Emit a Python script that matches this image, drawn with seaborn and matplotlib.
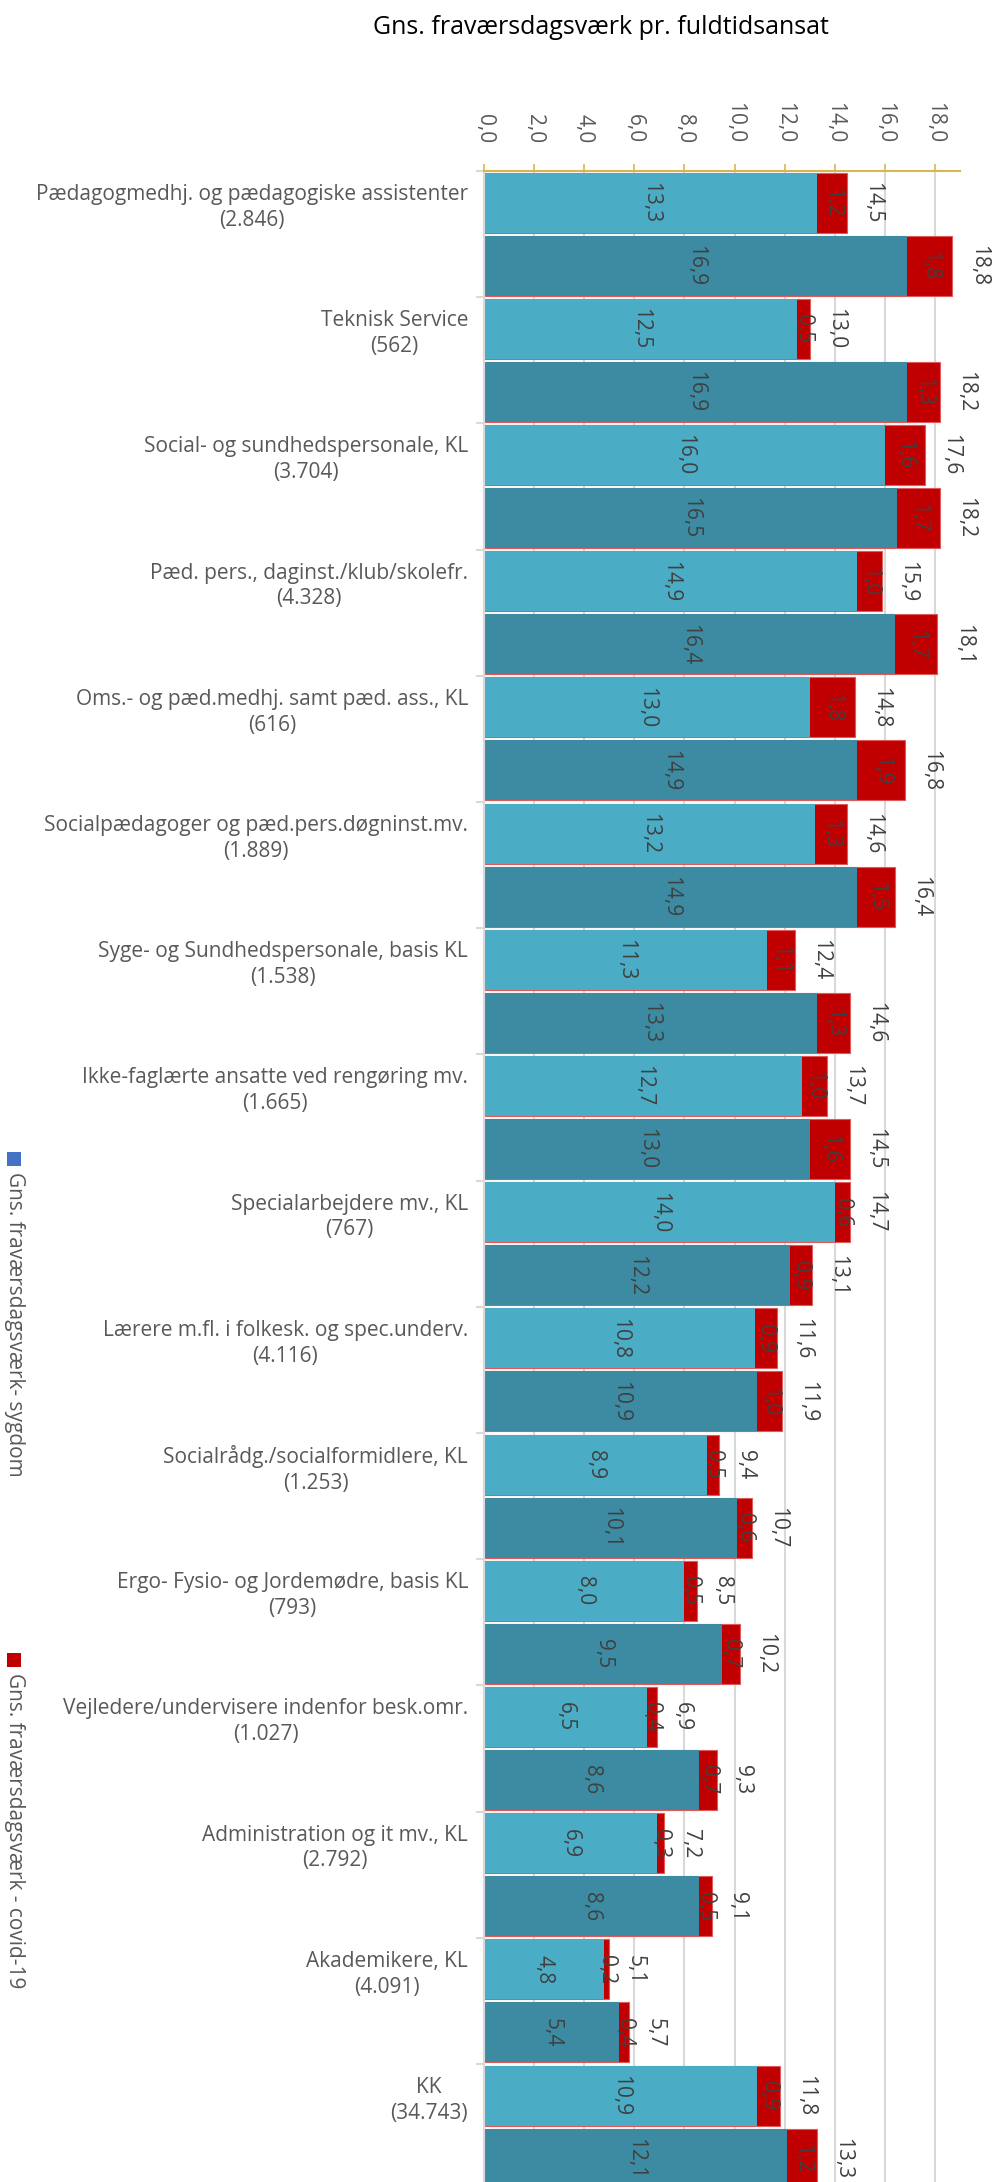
import matplotlib
matplotlib.use("Agg")
import matplotlib.pyplot as plt
import seaborn as sns
import pandas as pd
import numpy as np
from matplotlib.patches import Rectangle

# ---------------- data ----------------
categories = [
    "Pædagogmedhj. og pædagogiske assistenter",
    "Teknisk Service",
    "Social- og sundhedspersonale, KL",
    "Pæd. pers., daginst./klub/skolefr.",
    "Oms.- og pæd.medhj. samt pæd. ass., KL",
    "Socialpædagoger og pæd.pers.døgninst.mv.",
    "Syge- og Sundhedspersonale, basis KL",
    "Ikke-faglærte ansatte ved rengøring mv.",
    "Specialarbejdere mv., KL",
    "Lærere m.fl. i folkesk. og spec.underv.",
    "Socialrådg./socialformidlere, KL",
    "Ergo- Fysio- og Jordemødre, basis KL",
    "Vejledere/undervisere indenfor besk.omr.",
    "Administration og it mv., KL",
    "Akademikere, KL",
    "KK",
]
counts = ["2.846", "562", "3.704", "4.328", "616", "1.889", "1.538", "1.665",
          "767", "4.116", "1.253", "793", "1.027", "2.792", "4.091", "34.743"]

# first bar (light) per category
sick_a = [13.3, 12.5, 16.0, 14.9, 13.0, 13.2, 11.3, 12.7, 14.0, 10.8, 8.9, 8.0, 6.5, 6.9, 4.8, 10.9]
covid_a = [1.2, 0.5, 1.6, 1.0, 1.8, 1.3, 1.1, 1.0, 0.6, 0.9, 0.5, 0.5, 0.4, 0.3, 0.2, 0.9]
total_a = [14.5, 13.0, 17.6, 15.9, 14.8, 14.6, 12.4, 13.7, 14.7, 11.6, 9.4, 8.5, 6.9, 7.2, 5.1, 11.8]

# second bar (dark) per category
sick_b = [16.9, 16.9, 16.5, 16.4, 14.9, 14.9, 13.3, 13.0, 12.2, 10.9, 10.1, 9.5, 8.6, 8.6, 5.4, 12.1]
covid_b = [1.8, 1.3, 1.7, 1.7, 1.9, 1.5, 1.3, 1.6, 0.9, 1.0, 0.6, 0.7, 0.7, 0.5, 0.4, 1.2]
total_b = [18.8, 18.2, 18.2, 18.1, 16.8, 16.4, 14.6, 14.5, 13.1, 11.9, 10.7, 10.2, 9.3, 9.1, 5.7, 13.3]

series = ["A", "B"]
x_ticks = [0, 2, 4, 6, 8, 10, 12, 14, 16, 18]

title = "Gns. fraværsdagsværk pr. fuldtidsansat"
legend_labels = ["Gns. fraværsdagsværk- sygdom", "Gns. fraværsdagsværk - covid-19"]

# ---------------- styling ----------------
LIGHT = "#4BACC6"
DARK = "#3D8BA3"
RED = "#C00000"
LEG_BLUE = "#4472C4"
GRID = "#D9D9D9"
GOLD = "#D8B650"
TXT = "#595959"
VAL = "#404040"


def fmt(v):
    return f"{v:.1f}".replace(".", ",")


rows = []
for i, c in enumerate(categories):
    rows.append(dict(cat=c, series="A", sick=sick_a[i], covid=covid_a[i]))
    rows.append(dict(cat=c, series="B", sick=sick_b[i], covid=covid_b[i]))
df = pd.DataFrame(rows)
df["end"] = df["sick"] + df["covid"]

sns.set_theme(style="white")
plt.rcParams["font.family"] = ["Open Sans", "DejaVu Sans"]

W, H = 997, 2182
fig = plt.figure(figsize=(W / 100, H / 100), dpi=100)
n = len(categories)
ax_left, ax_right, ax_top = 484, 960, 171
ax_bot = ax_top + n * 126.2
ax = fig.add_axes([ax_left / W, 1 - ax_bot / H, (ax_right - ax_left) / W, (ax_bot - ax_top) / H])

# red (covid) full-length bars underneath
sns.barplot(data=df, y="cat", x="end", hue="series", hue_order=series, order=categories,
            palette=[RED, RED], saturation=1, orient="h", width=1.0, gap=0.05,
            legend=False, errorbar=None, ax=ax, edgecolor="#E05A5A", linewidth=0.8)
# sickness bars on top
sns.barplot(data=df, y="cat", x="sick", hue="series", hue_order=series, order=categories,
            palette=[LIGHT, DARK], saturation=1, orient="h", width=1.0, gap=0.05,
            legend=False, errorbar=None, ax=ax, linewidth=0)

red_cont = ax.containers[0:2]
sick_cont = ax.containers[2:4]
sick_vals = [sick_a, sick_b]
covid_vals = [covid_a, covid_b]
total_vals = [total_a, total_b]

FS = 15
for k in range(2):
    ax.bar_label(sick_cont[k], labels=[fmt(v) for v in sick_vals[k]], label_type="center",
                 rotation=-90, color=VAL, fontsize=FS)
    for i, p in enumerate(red_cont[k].patches):
        yc = p.get_y() + p.get_height() / 2
        s = sick_vals[k][i]
        cv = covid_vals[k][i]
        ax.text(s + cv / 2, yc, fmt(cv), rotation=-90, ha="center", va="center",
                color=VAL, fontsize=FS)
        ax.annotate(fmt(total_vals[k][i]), xy=(s + cv, yc), xytext=(18.5, 0),
                    textcoords="offset points", ha="center", va="center",
                    rotation=-90, color=VAL, fontsize=FS, annotation_clip=False)

# axes
ax.set_xlim(0, 19)
ax.set_ylim(n - 0.5, -0.5)
ax.xaxis.tick_top()
ax.set_xticks(x_ticks)
ax.set_xticklabels([fmt(v) for v in x_ticks], rotation=-90, color=TXT, fontsize=FS)
ax.tick_params(axis="x", which="major", top=True, bottom=False, length=5, width=1.2,
               color=GOLD, pad=15)
ax.set_xlabel("")
ax.set_ylabel("")

ax.set_yticks([i - 0.25 for i in range(n)])
ax.set_yticklabels([f"{c}\n({cnt})" for c, cnt in zip(categories, counts)],
                   color=TXT, fontsize=FS)
for t in ax.get_yticklabels():
    t.set_multialignment("center")
    t.set_linespacing(1.3)
ax.tick_params(axis="y", which="major", length=0, pad=11.5)
ax.set_yticks([i - 0.5 for i in range(n + 1)], minor=True)
ax.tick_params(axis="y", which="minor", left=True, length=6, width=1.5, color=GRID)

ax.set_axisbelow(True)
ax.grid(axis="x", color=GRID, linewidth=1.5)
ax.grid(axis="y", visible=False)
for s in ["right", "bottom"]:
    ax.spines[s].set_visible(False)
ax.spines["top"].set_color(GOLD)
ax.spines["top"].set_linewidth(1.5)
ax.spines["left"].set_color(GRID)
ax.spines["left"].set_linewidth(1.5)

# title
fig.text(601 / W, 1 - 28 / H, title, ha="center", va="center", fontsize=18, color="#000000")

# legend (vertical, on the left)
leg_y = [1152, 1653]
for lab, col, yy in zip(legend_labels, [LEG_BLUE, RED], leg_y):
    fig.patches.append(Rectangle((7 / W, 1 - (yy + 14) / H), 14 / W, 14 / H,
                                 transform=fig.transFigure, facecolor=col,
                                 edgecolor="none"))
    fig.text(14 / W, 1 - (yy + 20) / H, lab, rotation=-90, ha="center", va="top",
             fontsize=15, color=TXT)

fig.savefig("out.png", dpi=100)
